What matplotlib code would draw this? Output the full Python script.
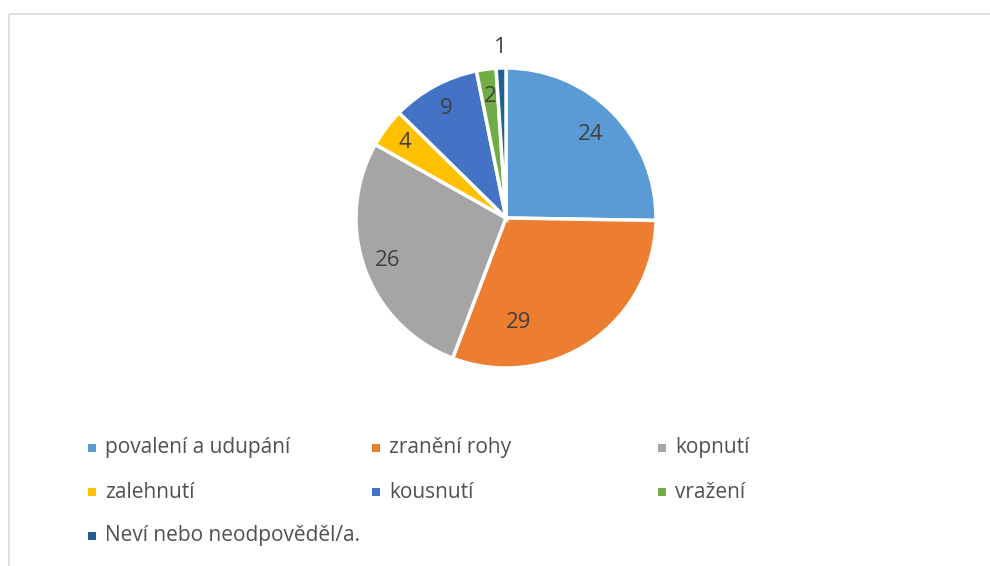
import numpy as np
import matplotlib; matplotlib.use("Agg")
import matplotlib.pyplot as plt
from matplotlib.patches import Rectangle
from matplotlib.lines import Line2D

plt.rcParams.update({"font.family": ["Open Sans", "DejaVu Sans"]})

categories = ["povalení a udupání", "zranění rohy", "kopnutí", "zalehnutí",
              "kousnutí", "vražení", "Neví nebo neodpověděl/a."]
values = [24, 29, 26, 4, 9, 2, 1]
colors = ["#5B9BD5", "#ED7D31", "#A5A5A5", "#FFC000", "#4472C4", "#70AD47", "#255E91"]
TXT = "#404040"

W, H = 990, 566
fig = plt.figure(figsize=(W / 100, H / 100), dpi=100)

# chart frame: only top and left edges are visible in the screenshot
fx, fy = 8.5 / W, 1 - 14 / H
fig.add_artist(Line2D([fx, 1.05], [fy, fy], transform=fig.transFigure, color="#d9d9d9",
                      lw=1.2, solid_capstyle="butt"))
fig.add_artist(Line2D([fx, fx], [-0.05, fy], transform=fig.transFigure, color="#d9d9d9",
                      lw=1.2, solid_capstyle="butt"))

cx, cy, r = 506, 218, 150
ax = fig.add_axes([(cx - r) / W, (H - cy - r) / H, 2 * r / W, 2 * r / H])
wedges, _ = ax.pie(values, colors=colors, startangle=90, counterclock=False,
                   wedgeprops=dict(edgecolor="white", linewidth=2.5))
ax.set_xlim(-1, 1); ax.set_ylim(-1, 1)

# label placement (Excel "best fit"): radial distance, optional angle override
lab_r = [0.79, 0.70, 0.84, 0.84, 0.83, 0.82, 1.14]
lab_ang = {1: -83}
for i, (w, v) in enumerate(zip(wedges, values)):
    ang = lab_ang.get(i, (w.theta1 + w.theta2) / 2)
    a = np.deg2rad(ang)
    ax.text(lab_r[i] * np.cos(a), lab_r[i] * np.sin(a), str(v), ha="center", va="center",
            fontsize=16, color=TXT, clip_on=False)

# legend, three equal-width columns
col_x = [88, 372, 658]
row_y = [448, 492, 536]
for i, (lab, col) in enumerate(zip(categories, colors)):
    x, y = col_x[i % 3], row_y[i // 3]
    fig.add_artist(Rectangle((x / W, (H - y - 4) / H), 8 / W, 8 / H,
                             transform=fig.transFigure, color=col, lw=0))
    fig.text((x + 17) / W, (H - y) / H, lab, ha="left", va="center",
             fontsize=15, color="#505050")

fig.savefig("out.png", dpi=100)
